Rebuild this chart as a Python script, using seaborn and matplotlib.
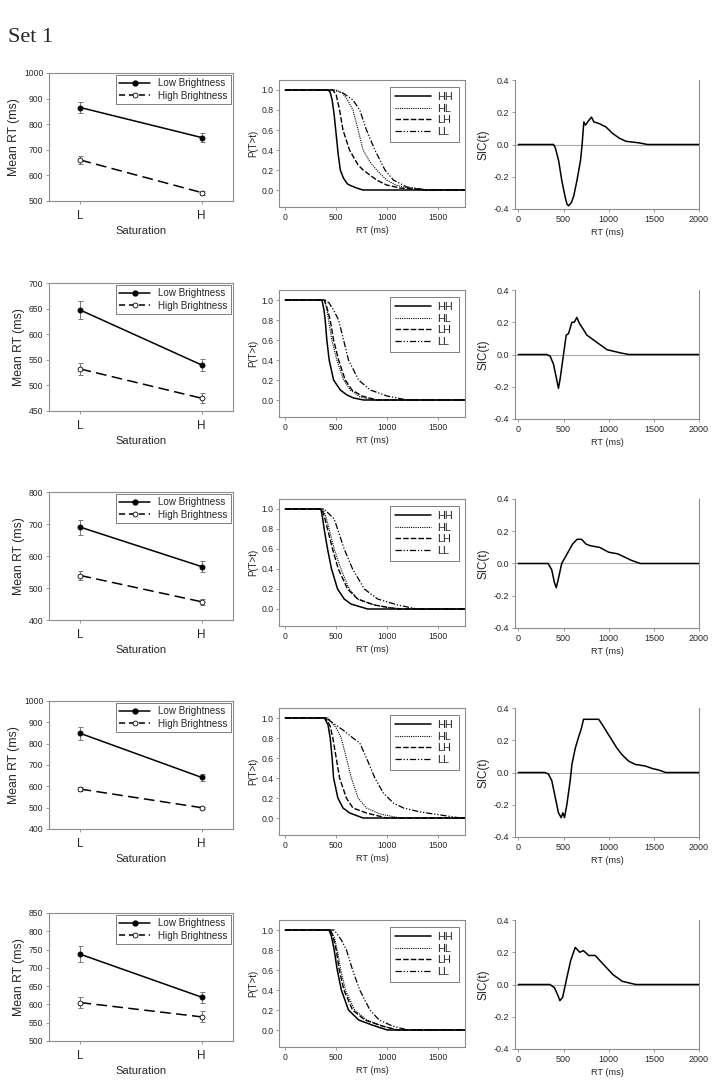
import numpy as np
import pandas as pd
import matplotlib
matplotlib.use("Agg")
import matplotlib.pyplot as plt
from matplotlib.lines import Line2D
import seaborn as sns

# mean RT panels: [L, H] saturation, low / high brightness, with error bars
levels = ["L", "H"]
low_mean = [[865, 748], [647, 540], [690, 567], [848, 642], [737, 620]]
low_err = [[20, 17], [17, 12], [23, 17], [30, 15], [22, 15]]
high_mean = [[660, 533], [532, 475], [539, 457], [587, 500], [605, 566]]
high_err = [[15, 8], [11, 10], [14, 10], [10, 5], [15, 15]]
mean_ylim = [(500, 1000), (450, 700), (400, 800), (400, 1000), (500, 850)]
mean_step = [100, 50, 100, 100, 50]

# survivor functions (t in ms, P(T>t))
surv1_HH = [(0, 1), (420, 1), (440, .98), (460, .9), (480, .75), (500, .55), (520, .35), (540, .2), (570, .12), (610, .06), (650, .04), (700, .02), (760, 0), (1760, 0)]
surv1_HL = [(0, 1), (500, 1), (560, .97), (610, .9), (664, .8), (714, .6), (763, .4), (830, .28), (895, .2), (993, .1), (1080, .05), (1158, .03), (1388, 0), (1760, 0)]
surv1_LH = [(0, 1), (467, 1), (500, .95), (533, .8), (566, .6), (630, .4), (714, .25), (763, .2), (895, .1), (993, .05), (1125, .02), (1388, 0), (1760, 0)]
surv1_LL = [(0, 1), (467, 1), (566, .97), (664, .9), (730, .8), (796, .6), (878, .4), (977, .2), (1059, .1), (1191, .03), (1388, 0), (1760, 0)]

surv2_HH = [(0, 1), (360, 1), (380, .9), (392, .8), (408, .6), (431, .4), (474, .2), (540, .1), (605, .05), (670, .02), (768, 0), (1760, 0)]
surv2_HL = [(0, 1), (380, 1), (405, .92), (425, .8), (457, .6), (506, .4), (572, .2), (637, .1), (735, .03), (866, 0), (1760, 0)]
surv2_LH = [(0, 1), (385, 1), (410, .92), (441, .8), (474, .6), (523, .4), (588, .2), (654, .1), (751, .04), (899, 0), (1760, 0)]
surv2_LL = [(0, 1), (390, 1), (430, .97), (474, .9), (523, .8), (572, .6), (620, .4), (719, .2), (833, .1), (997, .04), (1193, 0), (1760, 0)]

surv3_HH = [(0, 1), (350, 1), (365, .92), (382, .8), (415, .6), (454, .4), (513, .2), (578, .1), (644, .05), (807, 0), (1760, 0)]
surv3_HL = [(0, 1), (370, 1), (400, .92), (431, .8), (480, .6), (546, .4), (627, .2), (709, .1), (840, .05), (970, .02), (1167, 0), (1760, 0)]
surv3_LH = [(0, 1), (360, 1), (385, .92), (415, .8), (464, .6), (520, .4), (611, .2), (709, .1), (873, .04), (1101, 0), (1760, 0)]
surv3_LL = [(0, 1), (380, 1), (430, .95), (480, .9), (513, .8), (578, .6), (660, .4), (775, .2), (905, .1), (1101, .04), (1297, 0), (1760, 0)]

surv4_HH = [(0, 1), (385, 1), (420, .93), (441, .8), (460, .6), (474, .4), (516, .2), (566, .1), (632, .05), (763, 0), (1760, 0)]
surv4_HL = [(0, 1), (420, 1), (500, .9), (549, .8), (599, .6), (648, .4), (714, .2), (796, .1), (928, .04), (1125, 0), (1760, 0)]
surv4_LH = [(0, 1), (400, 1), (440, .92), (467, .8), (500, .6), (533, .4), (599, .2), (664, .1), (796, .05), (993, 0), (1760, 0)]
surv4_LL = [(0, 1), (400, 1), (467, .95), (566, .88), (664, .8), (730, .75), (796, .6), (878, .4), (961, .25), (1059, .15), (1158, .1), (1322, .06), (1520, .03), (1717, 0), (1760, 0)]

surv5_HH = [(0, 1), (430, 1), (455, .93), (480, .8), (510, .6), (550, .4), (620, .2), (720, .1), (850, .05), (1000, 0), (1760, 0)]
surv5_HL = [(0, 1), (450, 1), (480, .93), (510, .8), (545, .6), (590, .4), (680, .2), (800, .1), (950, .04), (1100, 0), (1760, 0)]
surv5_LH = [(0, 1), (440, 1), (470, .93), (500, .8), (530, .6), (575, .4), (660, .2), (780, .1), (950, .04), (1100, 0), (1760, 0)]
surv5_LL = [(0, 1), (480, 1), (550, .9), (600, .8), (660, .6), (730, .4), (830, .2), (920, .1), (1050, .04), (1200, 0), (1760, 0)]

# survivor interaction contrast
sic1 = [(0, 0), (390, 0), (409, -.02), (446, -.1), (483, -.23), (520, -.33), (539, -.37), (557, -.38), (587, -.36), (613, -.32), (650, -.22), (688, -.1), (706, 0), (725, .14), (743, .12), (781, .15), (810, .17), (836, .14), (892, .13), (967, .11), (1041, .07), (1115, .04), (1190, .02), (1338, .01), (1431, 0), (2000, 0)]
sic2 = [(0, 0), (315, 0), (352, -.01), (389, -.06), (419, -.14), (444, -.21), (463, -.15), (500, 0), (530, .12), (556, .13), (593, .2), (619, .2), (648, .23), (678, .19), (715, .16), (759, .12), (833, .09), (907, .06), (981, .03), (1056, .02), (1130, .01), (1222, 0), (2000, 0)]
sic3 = [(0, 0), (330, 0), (370, -.04), (400, -.12), (420, -.15), (445, -.09), (480, 0), (530, .05), (600, .12), (650, .15), (700, .15), (750, .12), (800, .11), (900, .1), (1000, .07), (1100, .06), (1250, .02), (1350, 0), (2000, 0)]
sic4 = [(0, 0), (296, 0), (333, -.01), (370, -.05), (407, -.15), (444, -.25), (474, -.28), (493, -.25), (511, -.28), (537, -.2), (574, -.05), (593, .05), (630, .15), (667, .22), (696, .27), (722, .33), (778, .33), (833, .33), (889, .33), (926, .3), (981, .25), (1037, .2), (1093, .15), (1148, .11), (1222, .07), (1296, .05), (1407, .04), (1481, .025), (1556, .015), (1630, 0), (2000, 0)]
sic5 = [(0, 0), (350, 0), (400, -.02), (440, -.07), (460, -.1), (490, -.08), (540, .05), (580, .15), (630, .23), (680, .2), (720, .21), (780, .18), (850, .18), (950, .12), (1050, .06), (1150, .02), (1300, 0), (2000, 0)]

conds = ["HH", "HL", "LH", "LL"]
survs = [[surv1_HH, surv1_HL, surv1_LH, surv1_LL],
         [surv2_HH, surv2_HL, surv2_LH, surv2_LL],
         [surv3_HH, surv3_HL, surv3_LH, surv3_LL],
         [surv4_HH, surv4_HL, surv4_LH, surv4_LL],
         [surv5_HH, surv5_HL, surv5_LH, surv5_LL]]
sics = [sic1, sic2, sic3, sic4, sic5]

sns.set_style("white")
plt.rcParams['font.family'] = ['Liberation Sans', 'DejaVu Sans']

W, H = 725, 1091
fig = plt.figure(figsize=(W / 100, H / 100), dpi=100)

def box(x0, y0, x1, y1):
    return [x0 / W, 1 - y1 / H, (x1 - x0) / W, (y1 - y0) / H]

def frame(ax, size=6.2):
    for s in ax.spines.values():
        s.set_color('#8c8c8c')
        s.set_linewidth(0.8)
    ax.tick_params(axis='both', direction='out', length=2.5, width=0.6,
                   color='#8c8c8c', labelsize=size, pad=1.5)
    ax.tick_params(axis='both', which='both', bottom=True, left=True)

def boxed_legend(leg):
    leg.get_frame().set_edgecolor('#444444')
    leg.get_frame().set_linewidth(0.6)

line_styles = ['-', (0, (1, 1)), (0, (4, 1.5)), (0, (5, 1.5, 1, 1.5, 1, 1.5))]
line_widths = [1.1, 0.8, 1.0, 0.9]
high_dash = (0, (7, 3.5))

tops = [73, 283, 492, 701, 913]
for r, top in enumerate(tops):
    # left: mean RT
    ax = fig.add_axes(box(49, top, 233, top + 128))
    pos = [0, 1]
    ax.errorbar(pos, low_mean[r], yerr=low_err[r], fmt='none', ecolor='#777777',
                elinewidth=0.7, capsize=1.8, capthick=0.7)
    ax.errorbar(pos, high_mean[r], yerr=high_err[r], fmt='none', ecolor='#777777',
                elinewidth=0.7, capsize=1.8, capthick=0.7)
    sns.lineplot(x=pos, y=low_mean[r], ax=ax, color='black', lw=1.1, marker='o',
                 markersize=3.5, markeredgecolor='black', markerfacecolor='black')
    sns.lineplot(x=pos, y=high_mean[r], ax=ax, color='black', lw=1.1, marker='o',
                 markersize=3.5, markeredgecolor='black', markerfacecolor='white',
                 markeredgewidth=0.6, linestyle=high_dash)
    ax.set_xlim(-0.26, 1.26)
    lo, hi = mean_ylim[r]
    ax.set_ylim(lo, hi)
    ax.set_yticks(np.arange(lo, hi + 1, mean_step[r]))
    ax.set_xticks(pos)
    ax.set_xticklabels(levels)
    frame(ax)
    ax.tick_params(axis='x', labelsize=8.5, pad=4)
    ax.set_xlabel('Saturation', fontsize=8, labelpad=3)
    ax.set_ylabel('Mean RT (ms)', fontsize=8.8, labelpad=3)
    handles = [Line2D([], [], color='black', lw=1.1, marker='o', markersize=3.5,
                      markerfacecolor='black', markeredgecolor='black'),
               Line2D([], [], color='black', lw=1.1, marker='o', markersize=3.5,
                      markerfacecolor='white', markeredgecolor='black',
                      markeredgewidth=0.6, linestyle=(0, (4, 2.5)))]
    leg = ax.legend(handles, ['Low Brightness', 'High Brightness'], loc='upper right',
                    fontsize=7.1, handlelength=3.2, handletextpad=0.8, frameon=True,
                    fancybox=False, borderaxespad=0.25, labelspacing=0.25, borderpad=0.3)
    boxed_legend(leg)

    # middle: survivor functions
    ax = fig.add_axes(box(279, top + 7, 465, top + 134))
    for k, c in enumerate(conds):
        df = pd.DataFrame(survs[r][k], columns=['t', 'p'])
        sns.lineplot(data=df, x='t', y='p', ax=ax, color='black', lw=line_widths[k],
                     linestyle=line_styles[k], label=c, sort=False)
    ax.set_xlim(-60, 1760)
    ax.set_ylim(-0.17, 1.1)
    ax.set_xticks([0, 500, 1000, 1500])
    ax.set_yticks(np.arange(0, 1.01, 0.2))
    ax.set_yticklabels([f'{v:.1f}' for v in np.arange(0, 1.01, 0.2)])
    frame(ax)
    ax.set_xlabel('RT (ms)', fontsize=6.6, labelpad=3)
    ax.set_ylabel('P(T>t)', fontsize=7, labelpad=2)
    leg = ax.legend(loc='upper right', fontsize=7.8, handlelength=3.3, handletextpad=0.6,
                    frameon=True, fancybox=False, borderaxespad=0.6, labelspacing=0.15,
                    borderpad=0.5)
    boxed_legend(leg)

    # right: SIC
    ax = fig.add_axes(box(515, top + 7, 699, top + 136))
    ax.axhline(0, color='#a8a8a8', lw=0.8, zorder=1)
    df = pd.DataFrame(sics[r], columns=['t', 'sic'])
    sns.lineplot(data=df, x='t', y='sic', ax=ax, color='black', lw=1.1, sort=False, zorder=3)
    ax.set_xlim(-37, 2000)
    ax.set_ylim(-0.4, 0.4)
    ax.set_xticks([0, 500, 1000, 1500, 2000])
    ax.set_yticks([-0.4, -0.2, 0, 0.2, 0.4])
    ax.set_yticklabels(['-0.4', '-0.2', '0.0', '0.2', '0.4'])
    frame(ax, 6.5)
    ax.spines['top'].set_visible(False)
    ax.set_xlabel('RT (ms)', fontsize=6.6, labelpad=3)
    ax.set_ylabel('SIC(t)', fontsize=8.4, labelpad=3)

fig.text(8 / W, 1 - 42 / H, 'Set 1', family='Liberation Serif', fontsize=16)

fig.savefig('out.png', dpi=100)
